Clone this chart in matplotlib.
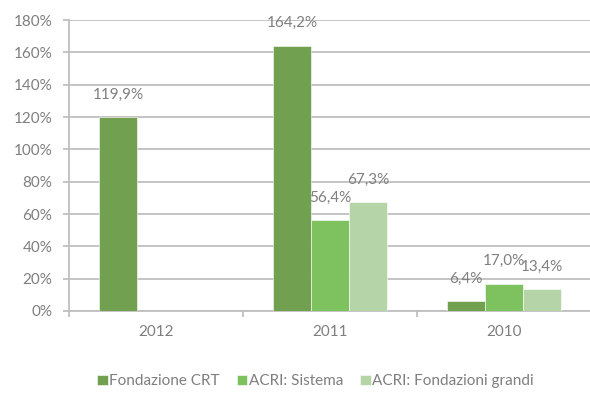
import numpy as np
import matplotlib
matplotlib.use("Agg")
import matplotlib.pyplot as plt
from matplotlib.ticker import FixedLocator, PercentFormatter

# Data
years = ["2012", "2011", "2010"]
series_names = ["Fondazione CRT", "ACRI: Sistema", "ACRI: Fondazioni grandi"]
crt = [119.9, 164.2, 6.4]
acri_sistema = [np.nan, 56.4, 17.0]
acri_grandi = [np.nan, 67.3, 13.4]
y_ticks = [0, 20, 40, 60, 80, 100, 120, 140, 160, 180]

colors = ["#70A050", "#7EC260", "#B5D5A8"]
text_gray = "#7F7F7F"
grid_gray = "#BFBFBF"
fs = 11

plt.rcParams["font.family"] = ["Lato", "DejaVu Sans"]

fig = plt.figure(figsize=(5.9, 3.93), dpi=100)
ax = fig.add_axes([0.117, 0.2087, 0.885, 0.7403])

x = np.arange(len(years))
width = 0.218
offsets = [-width, 0.0, width]

for vals, off, col, name in zip([crt, acri_sistema, acri_grandi], offsets, colors, series_names):
    vals = np.asarray(vals, dtype=float)
    mask = ~np.isnan(vals)
    ax.bar(x[mask] + off, vals[mask], width=width, color=col, edgecolor="white",
           linewidth=0.4, label=name, zorder=3)
    for xi, v in zip(x[mask] + off, vals[mask]):
        ax.annotate(f"{v:.1f}%".replace(".", ","), (xi, v), xytext=(0, 16),
                    textcoords="offset points", ha="center", va="center",
                    fontsize=fs, color=text_gray, zorder=4)

ax.set_xlim(-0.5, 2.5)
ax.set_ylim(0, 180)
ax.yaxis.set_major_locator(FixedLocator(y_ticks))
ax.yaxis.set_major_formatter(PercentFormatter(decimals=0))
ax.grid(axis="y", color=grid_gray, linewidth=1.3, zorder=0)
ax.set_axisbelow(True)

ax.set_xticks(x)
ax.set_xticklabels(years)
ax.set_xticks([-0.5, 0.5, 1.5, 2.5], minor=True)
ax.tick_params(axis="x", which="major", length=0, pad=10, labelsize=fs, labelcolor=text_gray)
ax.tick_params(axis="x", which="minor", length=4, width=1.3, color=grid_gray, direction="out")
ax.tick_params(axis="y", length=4, width=1.3, color=grid_gray, pad=8, labelsize=fs,
               labelcolor=text_gray)

for side in ["top", "right"]:
    ax.spines[side].set_visible(False)
for side in ["left", "bottom"]:
    ax.spines[side].set_color(grid_gray)
    ax.spines[side].set_linewidth(1.3)

leg = fig.legend(loc="center", bbox_to_anchor=(0.535, 0.03), ncol=3, frameon=False,
                 fontsize=fs, handlelength=0.7, handleheight=0.7, handletextpad=0.1,
                 columnspacing=1.1, labelcolor=text_gray)

fig.savefig("out.png", dpi=100)
